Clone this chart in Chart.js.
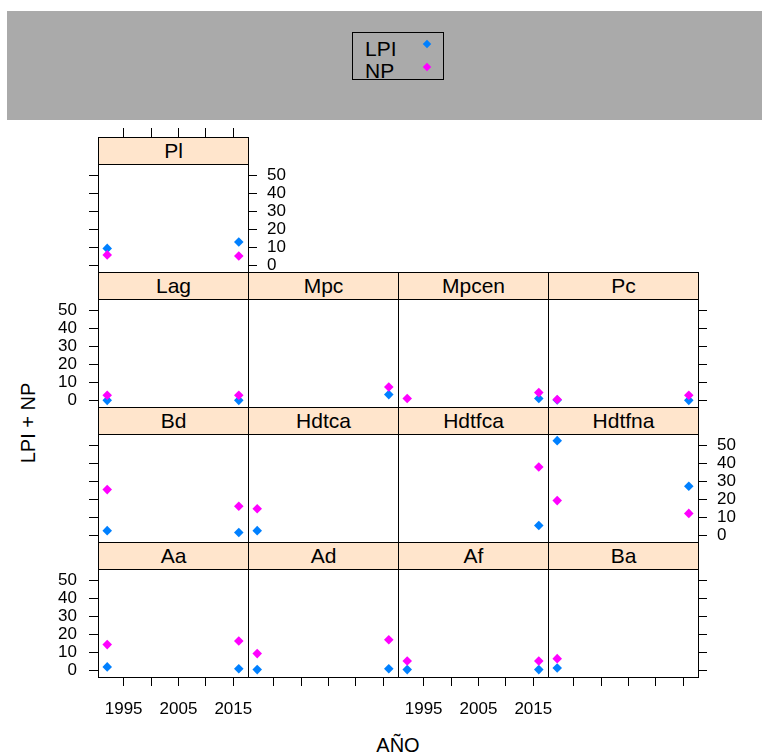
<!DOCTYPE html>
<html><head><meta charset="utf-8">
<script src="https://cdn.jsdelivr.net/npm/chart.js@4.4.0/dist/chart.umd.min.js"></script>
<style>
body{margin:0;width:762px;height:756px;background:#fff;position:relative;overflow:hidden;font-family:"Liberation Sans",Arial,sans-serif;}
.abs{position:absolute;}
#band{left:7px;top:11px;width:755px;height:109px;background:#aaaaaa;}
#legend{left:352px;top:32px;width:92px;height:48px;border:1px solid #000;box-sizing:border-box;}
.lt{position:absolute;left:12px;font-size:21px;line-height:21px;color:#000;}
.dm{position:absolute;width:6px;height:6px;transform:rotate(45deg);}
.strip{position:absolute;background:#ffe5cc;border:1px solid #000;box-sizing:border-box;font-size:21px;text-align:center;line-height:25px;color:#000;}
canvas{position:absolute;}
#ylab{left:28px;top:423px;font-size:20px;transform:translate(-50%,-50%) rotate(-90deg);white-space:nowrap;}
#xlab{left:398px;top:745px;font-size:20px;transform:translate(-50%,-50%);white-space:nowrap;}
</style></head>
<body>
<div id="band" class="abs"></div>
<div id="legend" class="abs">
  <div class="lt" style="top:5px">LPI</div>
  <div class="dm" style="left:71px;top:8px;background:#0080ff"></div>
  <div class="lt" style="top:27px">NP</div>
  <div class="dm" style="left:71px;top:31px;background:#ff00ff"></div>
</div>
<div id="ylab" class="abs">LPI + NP</div>
<div id="xlab" class="abs">AÑO</div>
<div id="wrap"></div>
<script>
// ---- data ----
const panelNames = ['Pl','Lag','Mpc','Mpcen','Pc','Bd','Hdtca','Hdtfca','Hdtfna','Aa','Ad','Af','Ba'];
const years = [1992, 2016];
const lpiValues = [
  [9.4, 13],     // Pl
  [0, 0],        // Lag
  [null, 3.2],   // Mpc
  [null, 1],     // Mpcen
  [0.2, 0],      // Pc
  [2.6, 1.6],    // Bd
  [2.6, null],   // Hdtca
  [null, 5.5],   // Hdtfca
  [52.6, 27.3],  // Hdtfna
  [1.9, 0.9],    // Aa
  [0.4, 0.9],    // Ad
  [0.4, 0.4],    // Af
  [1.3, null]    // Ba
];
const npValues = [
  [5.8, 5.2],    // Pl
  [2.8, 2.8],    // Lag
  [null, 7.4],   // Mpc
  [1, 4.3],      // Mpcen
  [0.5, 2.8],    // Pc
  [25.4, 16.2],  // Bd
  [14.8, null],  // Hdtca
  [null, 38],    // Hdtfca
  [19.3, 12.2],  // Hdtfna
  [14.3, 16.3],  // Aa
  [9.3, 17],     // Ad
  [5.2, 5.2],    // Af
  [6.5, null]    // Ba
];
const yTicks = [0, 10, 20, 30, 40, 50];
const xTicks = [1995, 2000, 2005, 2010, 2015];
const xTickLabels = ['1995', '', '2005', '', '2015'];
const seriesNames = ['LPI', 'NP'];

// ---- layout ----
const layout = {
  Pl:{row:0,col:0,left:'ticks',right:'labels',top:'ticks',bottom:'none'},
  Lag:{row:1,col:0,left:'labels'},
  Mpc:{row:1,col:1},
  Mpcen:{row:1,col:2},
  Pc:{row:1,col:3,right:'ticks'},
  Bd:{row:2,col:0,left:'ticks'},
  Hdtca:{row:2,col:1},
  Hdtfca:{row:2,col:2},
  Hdtfna:{row:2,col:3,right:'labels'},
  Aa:{row:3,col:0,left:'labels',bottom:'labels'},
  Ad:{row:3,col:1,bottom:'ticks'},
  Af:{row:3,col:2,bottom:'labels'},
  Ba:{row:3,col:3,bottom:'ticks',right:'ticks'}
};
const colLeft = [98, 248, 398, 548];
const rowTop = [137, 272, 407, 542];
const PW = 150, STRIP = 27, PH = 108, M = 50;
const YMIN = -3.7, YMAX_DATA = 56.3;
const YMAX = YMAX_DATA + STRIP * (YMAX_DATA - YMIN) / PH;
const XMIN = 1990.32, XMAX = 2017.68;
const FONT = {family:'"Liberation Sans", Arial, sans-serif', size:17};

function axis(kind, pos, min, max, tickVals, labelFn, pad){
  kind = kind || 'none';
  return {
    type:'linear', axis:(pos==='left'||pos==='right')?'y':'x', position:pos, min:min, max:max, display:true,
    grid:{display:kind!=='none', drawOnChartArea:false, drawTicks:true, tickLength:9, color:'#000', lineWidth:1},
    border:{display:true, color:'#000', width:1},
    ticks:{display:kind==='labels', autoSkip:false, maxRotation:0, minRotation:0, includeBounds:false,
           padding:pad, color:'#000', font:FONT, callback:labelFn},
    afterBuildTicks: s => { s.ticks = tickVals.map(v => ({value:v})); },
    afterFit: s => { if (pos==='left'||pos==='right') s.width = M; else s.height = M; }
  };
}
const xLabel = v => { const i = xTicks.indexOf(v); return i >= 0 ? xTickLabels[i] : ''; };
const yLabel = v => String(v);

const wrap = document.getElementById('wrap');
panelNames.forEach((name, i) => {
  const L = layout[name];
  const cx = colLeft[L.col], cy = rowTop[L.row];
  const cv = document.createElement('canvas');
  cv.width = PW + 2*M; cv.height = STRIP + PH + 2*M;
  cv.style.left = (cx - M) + 'px'; cv.style.top = (cy - M) + 'px';
  cv.style.width = cv.width + 'px'; cv.style.height = cv.height + 'px';
  wrap.appendChild(cv);
  const pts = vals => years.map((x, j) => vals[j] == null ? null : {x:x, y:vals[j]}).filter(Boolean);
  new Chart(cv, {
    type:'scatter',
    data:{datasets:[
      {label:seriesNames[0], data:pts(lpiValues[i]), backgroundColor:'#0080ff', borderWidth:0, pointStyle:'rectRot', pointRadius:4.8, order:2, xAxisID:'x', yAxisID:'y'},
      {label:seriesNames[1], data:pts(npValues[i]), backgroundColor:'#ff00ff', borderWidth:0, pointStyle:'rectRot', pointRadius:4.8, order:1, xAxisID:'x', yAxisID:'y'}
    ]},
    options:{
      responsive:false, animation:false, devicePixelRatio:1, events:[],
      layout:{padding:0},
      plugins:{legend:{display:false}, tooltip:{enabled:false}, title:{display:false}},
      scales:{
        x: axis(L.bottom, 'bottom', XMIN, XMAX, xTicks, xLabel, 13),
        x2: axis(L.top, 'top', XMIN, XMAX, xTicks, xLabel, 13),
        y: axis(L.left, 'left', YMIN, YMAX, yTicks, yLabel, 12),
        y2: axis(L.right, 'right', YMIN, YMAX, yTicks, yLabel, 10)
      }
    }
  });
  const st = document.createElement('div');
  st.className = 'strip';
  st.style.left = cx + 'px'; st.style.top = cy + 'px';
  st.style.width = (PW + 1) + 'px'; st.style.height = (STRIP + 1) + 'px';
  st.textContent = name;
  document.body.appendChild(st);
});
</script>
</body></html>
